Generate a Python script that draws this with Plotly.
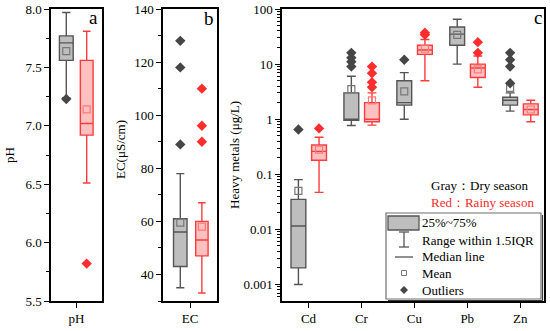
import plotly.graph_objects as go

W, H = 550, 331

# ---------------- data ----------------
# Panel a: pH
ph_dry = dict(q1=7.56, med=7.71, q3=7.77, lo=7.24, hi=7.97, mean=7.64, out=[7.23])
ph_rainy = dict(q1=6.92, med=7.02, q3=7.56, lo=6.51, hi=7.81, mean=7.14, out=[5.82])

# Panel b: EC
ec_dry = dict(q1=43, med=56, q3=61, lo=35, hi=78, mean=59.5, out=[89, 118, 128])
ec_rainy = dict(q1=47, med=53, q3=60, lo=33, hi=67, mean=58, out=[90, 96, 110])

# Panel c: heavy metals
metals = ["Cd", "Cr", "Cu", "Pb", "Zn"]
hm_dry_q1 = [0.002, 0.95, 1.8, 22, 1.8]
hm_dry_med = [0.0115, 1.0, 2.0, 35, 2.2]
hm_dry_q3 = [0.035, 3.0, 5.0, 47, 2.5]
hm_dry_lo = [0.001, 0.77, 1.0, 10, 1.4]
hm_dry_hi = [0.08, 6.0, 7.0, 65, 3.0]
hm_dry_mean = [0.05, 3.5, 3.2, 34, 3.7]
hm_dry_out = [[0.65], [9, 11, 13, 16], [12], [], [4.5, 9, 12, 16]]

hm_rainy_q1 = [0.18, 0.9, 15, 5.7, 1.2]
hm_rainy_med = [0.26, 1.0, 18, 8.5, 1.5]
hm_rainy_q3 = [0.34, 2.0, 22, 10, 1.9]
hm_rainy_lo = [0.047, 0.78, 5.0, 3.8, 0.9]
hm_rainy_hi = [0.47, 3.0, 28, 14, 2.2]
hm_rainy_mean = [0.28, 2.2, 19, 8.0, 1.5]
hm_rainy_out = [[0.68], [3.8, 4.7, 6.8, 9], [34, 37], [16, 25], []]

# ---------------- styles ----------------
FONT = "Liberation Serif"
GRAY = dict(fill="rgb(190,190,190)", line="rgb(85,85,85)", mean="rgb(120,120,120)", out="rgb(70,70,70)")
RED = dict(fill="rgb(255,192,192)", line="rgb(255,60,60)", mean="rgb(255,120,120)", out="rgb(255,45,45)")


def px_x(x):
    return x / W


def px_y(y):
    return 1 - y / H


fig = go.Figure()


def add_box(xa, ya, pos, q1, med, q3, lo, hi, mean, outs, st, width):
    fig.add_trace(go.Box(
        x=[pos], q1=[q1], median=[med], q3=[q3], lowerfence=[lo], upperfence=[hi],
        width=width, whiskerwidth=0.6, fillcolor=st["fill"],
        line=dict(color=st["line"], width=1.4), boxpoints=False,
        xaxis=xa, yaxis=ya, showlegend=False, hoverinfo="skip"))
    fig.add_trace(go.Scatter(
        x=[pos], y=[mean], mode="markers", xaxis=xa, yaxis=ya, showlegend=False,
        marker=dict(symbol="square-open", size=7, color=st["mean"], line=dict(width=1.2))))
    if outs:
        fig.add_trace(go.Scatter(
            x=[pos] * len(outs), y=outs, mode="markers", xaxis=xa, yaxis=ya, showlegend=False,
            marker=dict(symbol="diamond", size=8, color=st["out"])))


def add_stat(xa, ya, pos, d, st, width):
    add_box(xa, ya, pos, d["q1"], d["med"], d["q3"], d["lo"], d["hi"], d["mean"], d["out"], st, width)


add_stat("x", "y", -0.2, ph_dry, GRAY, 0.27)
add_stat("x", "y", 0.2, ph_rainy, RED, 0.25)
add_stat("x2", "y2", -0.18, ec_dry, GRAY, 0.25)
add_stat("x2", "y2", 0.22, ec_rainy, RED, 0.23)

for i, m in enumerate(metals):
    c = i + 1
    add_box("x3", "y3", c - 0.19, hm_dry_q1[i], hm_dry_med[i], hm_dry_q3[i], hm_dry_lo[i], hm_dry_hi[i],
            hm_dry_mean[i], hm_dry_out[i], GRAY, 0.28)
    add_box("x3", "y3", c + 0.2, hm_rainy_q1[i], hm_rainy_med[i], hm_rainy_q3[i], hm_rainy_lo[i],
            hm_rainy_hi[i], hm_rainy_mean[i], hm_rainy_out[i], RED, 0.28)

axis_common = dict(showline=True, mirror=True, linecolor="black", linewidth=1.5, ticks="outside",
                   ticklen=5, tickwidth=1.2, tickcolor="black", showgrid=False, zeroline=False,
                   tickfont=dict(family=FONT, size=13, color="black"), fixedrange=True,
                   automargin=False, ticklabeloverflow="allow")

ydom = [px_y(301), px_y(9)]

fig.update_layout(
    width=W, height=H, margin=dict(l=0, r=0, t=0, b=0, pad=0, autoexpand=False),
    paper_bgcolor="white", plot_bgcolor="white", showlegend=False,
    xaxis=dict(domain=[px_x(51), px_x(102)], range=[-0.5, 0.5], tickvals=[0], ticktext=["pH"],
               anchor="y", **axis_common),
    yaxis=dict(domain=ydom, range=[5.5, 8.0], dtick=0.5, tick0=5.5, tickformat=".1f", anchor="x",
               minor=dict(dtick=0.25, ticks="outside", ticklen=3, tickcolor="black"), **axis_common),
    xaxis2=dict(domain=[px_x(163), px_x(217)], range=[-0.5, 0.5], tickvals=[0], ticktext=["EC"],
                anchor="y2", **axis_common),
    yaxis2=dict(domain=ydom, range=[30, 140], dtick=20, tick0=40, anchor="x2",
                minor=dict(dtick=10, ticks="outside", ticklen=3, tickcolor="black"), **axis_common),
    xaxis3=dict(domain=[px_x(282), px_x(544)], range=[0.5, 5.45], tickvals=[1, 2, 3, 4, 5],
                ticktext=metals, anchor="y3", **axis_common),
    yaxis3=dict(domain=ydom, type="log", range=[-3.3, 2], dtick=1, anchor="x3",
                minor=dict(ticks="outside", ticklen=3, tickcolor="black"), **axis_common),
)

ann = []
def text(x, y, s, size=13, color="black", angle=0, xanchor="center"):
    ann.append(dict(x=px_x(x), y=px_y(y), xref="paper", yref="paper", text=s, showarrow=False,
                    font=dict(family=FONT, size=size, color=color), textangle=angle,
                    xanchor=xanchor, yanchor="middle"))

text(9, 155, "pH", angle=-90)
text(120, 150, "EC(μS/cm)", angle=-90)
text(234, 155, "Heavy metals (μg/L)", angle=-90)
text(93, 17, "a", size=19)
text(209, 19, "b", size=19)
text(538, 18, "c", size=19)
text(429, 185, "Gray：Dry season", xanchor="left")
text(429, 202, "Red：Rainy season", color="rgb(255,40,40)", xanchor="left")
# legend texts
text(420, 222, "25%~75%", xanchor="left")
text(420, 240, "Range within 1.5IQR", xanchor="left")
text(420, 256, "Median line", xanchor="left")
text(420, 273, "Mean", xanchor="left")
text(420, 290, "Outliers", xanchor="left")
fig.update_layout(annotations=ann)

shapes = []
def rect(x0, y0, x1, y1, line="black", fill="rgba(0,0,0,0)", lw=1):
    shapes.append(dict(type="rect", xref="paper", yref="paper", x0=px_x(x0), x1=px_x(x1),
                       y0=px_y(y0), y1=px_y(y1), line=dict(color=line, width=lw), fillcolor=fill))
def line(x0, y0, x1, y1, color="rgb(85,85,85)", lw=1.3):
    shapes.append(dict(type="line", xref="paper", yref="paper", x0=px_x(x0), x1=px_x(x1),
                       y0=px_y(y0), y1=px_y(y1), line=dict(color=color, width=lw)))

# legend frame with a small drop shadow
line(388, 300.5, 542.5, 300.5, color="rgb(60,60,60)", lw=1.2)
line(542.5, 215, 542.5, 300.5, color="rgb(60,60,60)", lw=1.2)
rect(386, 213, 541, 299, line="rgb(110,110,110)", fill="white", lw=1.2)
rect(388, 216, 419, 230, line="rgb(85,85,85)", fill="rgb(190,190,190)", lw=1.3)
line(404, 232, 404, 247)
line(399, 232, 409, 232)
line(399, 247, 409, 247)
line(395, 257, 413, 257)
rect(401.5, 270.5, 406.5, 275.5, line="rgb(120,120,120)", lw=1)
# diamond symbol for outliers in legend
cx, cy, r = 404, 290, 4
shapes.append(dict(type="path", xref="paper", yref="paper",
                   path="M {} {} L {} {} L {} {} L {} {} Z".format(
                       px_x(cx), px_y(cy - r), px_x(cx + r), px_y(cy), px_x(cx), px_y(cy + r),
                       px_x(cx - r), px_y(cy)),
                   fillcolor="rgb(70,70,70)", line=dict(width=0)))
fig.update_layout(shapes=shapes)

# remove the browser's default 8 px page margin so the figure fills the window exactly
fig.write_html("out.html", config={"displayModeBar": False},
               post_script="document.body.style.margin='0px';document.body.style.padding='0px';")
